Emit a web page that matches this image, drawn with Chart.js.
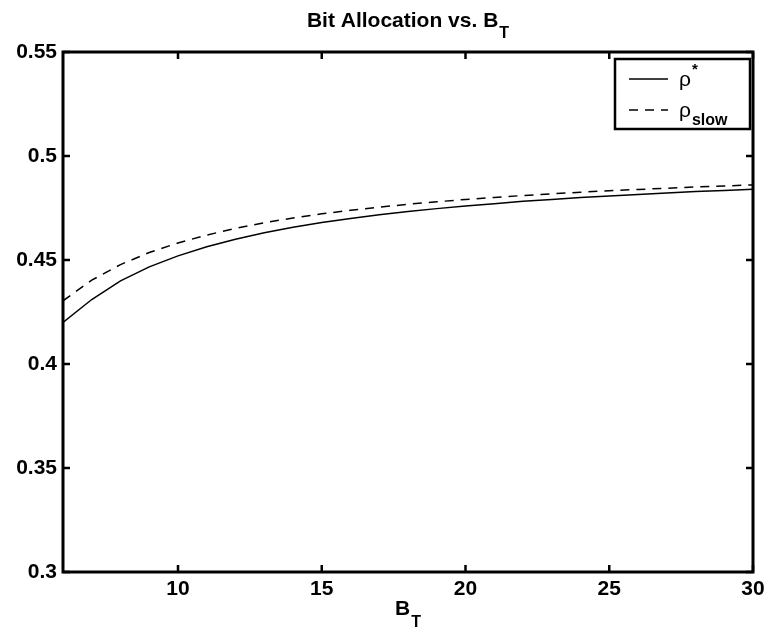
<!DOCTYPE html>
<html>
<head>
<meta charset="utf-8">
<script src="https://cdn.jsdelivr.net/npm/chart.js@4"></script>
<style>
html, body { margin: 0; padding: 0; background: #fff; }
#wrap { width: 773px; height: 632px; }
</style>
</head>
<body>
<div id="wrap"><canvas id="chart" width="773" height="632"></canvas></div>
<script>
// B_T values and the two bit allocation curves
const bitBudget = [6, 7, 8, 9, 10, 11, 12, 13, 14, 15, 16, 17, 18, 19, 20, 21, 22, 23, 24, 25, 26, 27, 28, 29, 30];
const rhoOpt = [0.420, 0.431, 0.440, 0.4467, 0.452, 0.4564, 0.460, 0.4631, 0.4657, 0.468, 0.470, 0.4718, 0.4733,
    0.4747, 0.476, 0.4771, 0.4782, 0.4791, 0.480, 0.4808, 0.4815, 0.4822, 0.4829, 0.4834, 0.484];
const rhoSlow = [0.4304, 0.4403, 0.4478, 0.4536, 0.4582, 0.462, 0.4652, 0.4679, 0.4702, 0.4722, 0.4739, 0.4754, 0.4768,
    0.478, 0.4791, 0.4801, 0.481, 0.4818, 0.4826, 0.4833, 0.4839, 0.4845, 0.4851, 0.4856, 0.4861];

const xTicks = [10, 15, 20, 25, 30];
const yTicks = [0.3, 0.35, 0.4, 0.45, 0.5, 0.55];
const yTickLabels = ['0.3', '0.35', '0.4', '0.45', '0.5', '0.55'];

const FONT = '"Liberation Sans", Arial, Helvetica, sans-serif';

function drawScripted(ctx, base, script, x, y, dy, baseFont, scriptFont) {
    ctx.font = baseFont;
    ctx.fillText(base, x, y);
    const w = ctx.measureText(base).width;
    ctx.font = scriptFont;
    ctx.fillText(script, x + w + 1, y + dy);
}

function scriptedWidth(ctx, base, script, baseFont, scriptFont) {
    ctx.font = baseFont;
    const w1 = ctx.measureText(base).width;
    ctx.font = scriptFont;
    return w1 + 1 + ctx.measureText(script).width;
}

// matlab style box, inward ticks, title, x label and legend
const matlabFrame = {
    id: 'matlabFrame',
    afterDatasetsDraw(chart) {
        const ctx = chart.ctx;
        const a = chart.chartArea;
        const sx = chart.scales.x;
        const sy = chart.scales.y;
        ctx.save();
        ctx.strokeStyle = '#000';
        ctx.fillStyle = '#000';

        ctx.lineWidth = 3;
        ctx.strokeRect(a.left, a.top, a.right - a.left, a.bottom - a.top);

        const tl = 7;
        ctx.beginPath();
        xTicks.forEach(v => {
            const px = sx.getPixelForValue(v);
            ctx.moveTo(px, a.bottom);
            ctx.lineTo(px, a.bottom - tl);
            ctx.moveTo(px, a.top);
            ctx.lineTo(px, a.top + tl);
        });
        yTicks.forEach(v => {
            const py = sy.getPixelForValue(v);
            ctx.moveTo(a.left, py);
            ctx.lineTo(a.left + tl, py);
            ctx.moveTo(a.right, py);
            ctx.lineTo(a.right - tl, py);
        });
        ctx.lineWidth = 2.5;
        ctx.stroke();

        // title and x label with subscript T
        const bigBold = 'bold 21px ' + FONT;
        const subBold = 'bold 16px ' + FONT;
        ctx.textAlign = 'left';
        ctx.textBaseline = 'alphabetic';
        const cx = (a.left + a.right) / 2;
        let w = scriptedWidth(ctx, 'Bit Allocation vs. B', 'T', bigBold, subBold);
        drawScripted(ctx, 'Bit Allocation vs. B', 'T', cx - w / 2, 27, 11, bigBold, subBold);
        w = scriptedWidth(ctx, 'B', 'T', bigBold, subBold);
        drawScripted(ctx, 'B', 'T', cx - w / 2, 615, 12, bigBold, subBold);

        // legend
        const lx = a.right - 138, ly = a.top + 7, lw = 135, lh = 70;
        ctx.fillStyle = '#fff';
        ctx.fillRect(lx, ly, lw, lh);
        ctx.lineWidth = 2.5;
        ctx.strokeRect(lx, ly, lw, lh);
        ctx.fillStyle = '#000';
        ctx.lineWidth = 1.5;
        ctx.beginPath();
        ctx.moveTo(lx + 14, ly + 20);
        ctx.lineTo(lx + 53, ly + 20);
        ctx.stroke();
        ctx.setLineDash([9, 7]);
        ctx.beginPath();
        ctx.moveTo(lx + 14, ly + 51);
        ctx.lineTo(lx + 53, ly + 51);
        ctx.stroke();
        ctx.setLineDash([]);
        const rhoFont = '21px ' + FONT;
        drawScripted(ctx, 'ρ', '*', lx + 64, ly + 27, -12, rhoFont, 'bold 15px ' + FONT);
        drawScripted(ctx, 'ρ', 'slow', lx + 64, ly + 58, 8, rhoFont, subBold);
        ctx.restore();
    }
};

const tickFont = { family: FONT, size: 21, weight: 'bold' };

new Chart(document.getElementById('chart'), {
    type: 'line',
    data: {
        datasets: [
            {
                label: 'rho*',
                data: bitBudget.map((b, i) => ({ x: b, y: rhoOpt[i] })),
                borderColor: '#000',
                borderWidth: 1.5,
                pointRadius: 0,
                tension: 0,
                fill: false
            },
            {
                label: 'rho slow',
                data: bitBudget.map((b, i) => ({ x: b, y: rhoSlow[i] })),
                borderColor: '#000',
                borderWidth: 1.5,
                borderDash: [9, 7],
                pointRadius: 0,
                tension: 0,
                fill: false
            }
        ]
    },
    options: {
        responsive: false,
        animation: false,
        layout: { padding: { left: 0, right: 20, top: 52, bottom: 0 } },
        plugins: {
            legend: { display: false },
            tooltip: { enabled: false },
            title: { display: false }
        },
        scales: {
            x: {
                type: 'linear',
                min: 6,
                max: 30,
                grid: { display: false, drawTicks: false },
                border: { display: false },
                afterBuildTicks: s => { s.ticks = xTicks.map(v => ({ value: v })); },
                afterFit: s => { s.height = 60; },
                ticks: { font: tickFont, color: '#000', padding: 5, maxRotation: 0, autoSkip: false }
            },
            y: {
                type: 'linear',
                min: 0.3,
                max: 0.55,
                grid: { display: false, drawTicks: false },
                border: { display: false },
                afterBuildTicks: s => { s.ticks = yTicks.map(v => ({ value: v })); },
                afterFit: s => { s.width = 63; },
                ticks: {
                    font: tickFont,
                    color: '#000',
                    padding: 6,
                    autoSkip: false,
                    callback: v => yTickLabels[yTicks.indexOf(v)]
                }
            }
        }
    },
    plugins: [matlabFrame]
});
</script>
</body>
</html>
